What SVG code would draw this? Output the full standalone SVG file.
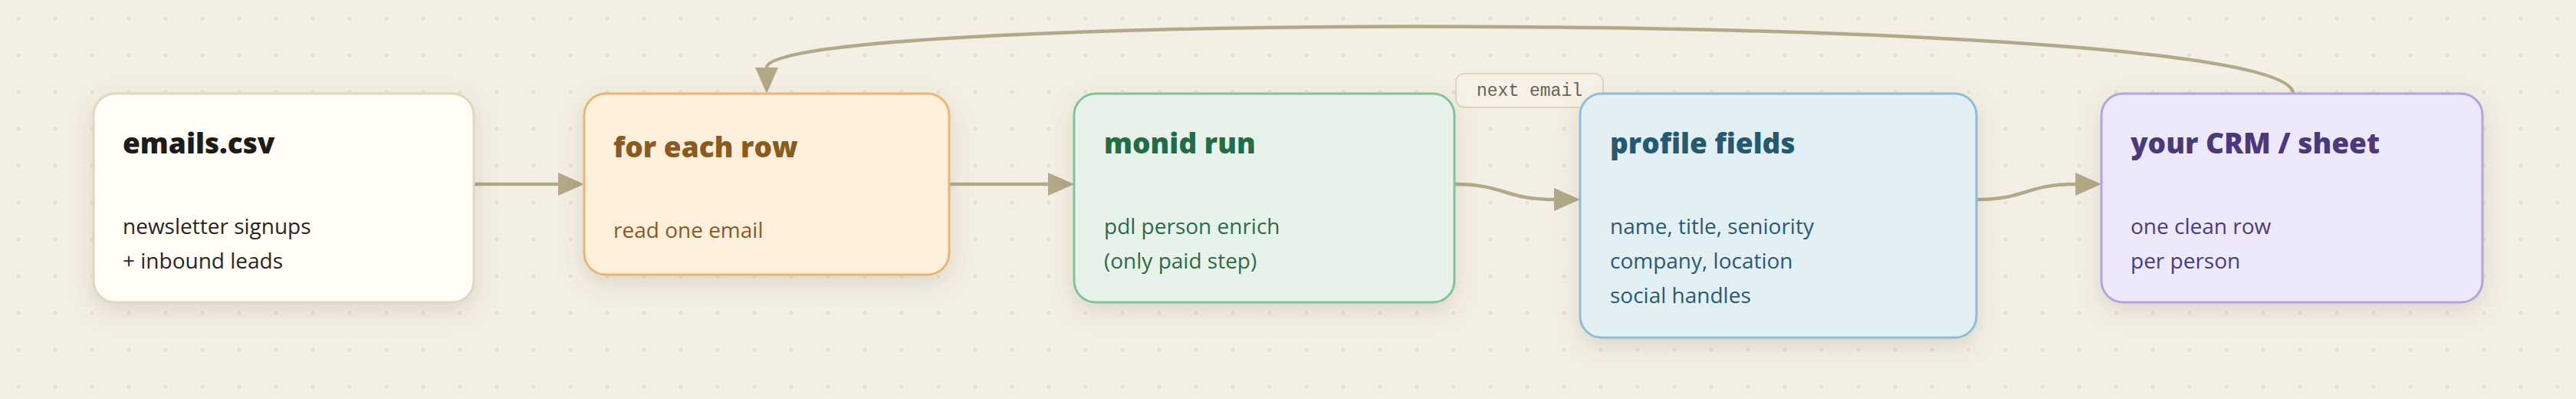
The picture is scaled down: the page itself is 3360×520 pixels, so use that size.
<svg xmlns="http://www.w3.org/2000/svg" width="3360" height="520" viewBox="0 0 3360 520">
  <defs>
    <pattern id="dots" x="0" y="0" width="48" height="48" patternUnits="userSpaceOnUse">
      <circle cx="24" cy="24" r="2" fill="#e3dccb"/>
    </pattern>
    <filter id="shadow" x="-10%" y="-20%" width="120%" height="150%">
      <feDropShadow dx="0" dy="10" stdDeviation="14" flood-color="#6b5a3a" flood-opacity="0.16"/>
    </filter>
    <marker id="arrow" markerWidth="34" markerHeight="30" refX="0" refY="15" orient="auto" markerUnits="userSpaceOnUse">
      <path d="M0,0 L34,15 L0,30 z" fill="#b3a887"/>
    </marker>
    <style>
      .edge { fill: none; stroke: #b3a887; stroke-width: 4.5; }
      .box { stroke-width: 3; filter: url(#shadow); }
      .title { font-family: "Open Sans", "Noto Sans", "Liberation Sans", sans-serif; font-weight: 800; font-size: 37px; }
      .body { font-family: "Open Sans", "Noto Sans", "Liberation Sans", sans-serif; font-weight: 400; font-size: 28px; }
      .lbl { font-family: "Liberation Mono", "DejaVu Sans Mono", monospace; font-size: 23px; fill: #6b6255; }
    </style>
  </defs>

  <rect x="0" y="0" width="3360" height="520" fill="#f3efe4"/>
  <rect x="0" y="0" width="3360" height="520" fill="url(#dots)"/>

  <g id="connectors">
    <line class="edge" x1="618" y1="240" x2="728" y2="240" marker-end="url(#arrow)"/>
    <line class="edge" x1="1238" y1="240" x2="1367" y2="240" marker-end="url(#arrow)"/>
    <path class="edge" d="M1897,240 C1962,240 1962,260 2027,260" marker-end="url(#arrow)"/>
    <path class="edge" d="M2578,260 C2643,260 2643,240 2707,240" marker-end="url(#arrow)"/>
    <path class="edge" d="M2991,122 C2991,12 1000,12 1000,88" marker-end="url(#arrow)"/>
    <g id="label-next-email">
      <rect x="1899" y="96" width="192" height="44" rx="11" fill="#f6f2e8" stroke="#e0d6bf" stroke-width="2"/>
      <text class="lbl" x="1995" y="125" text-anchor="middle">next email</text>
    </g>
  </g>

  <g id="node-emails">
    <rect class="box" x="122" y="122" width="496" height="272" rx="28" fill="#fffdf6" stroke="#e1d6be"/>
    <text class="title" x="160" y="200" fill="#1f1b16">emails.csv</text>
    <text class="body" x="160" y="305" fill="#2a2520">newsletter signups</text>
    <text class="body" x="160" y="350" fill="#2a2520">+ inbound leads</text>
  </g>

  <g id="node-foreach">
    <rect class="box" x="762" y="122" width="476" height="236" rx="28" fill="#fcefdc" stroke="#e8b676"/>
    <text class="title" x="800" y="205" fill="#8b5a1f">for each row</text>
    <text class="body" x="800" y="310" fill="#8b5a1f">read one email</text>
  </g>

  <g id="node-monid">
    <rect class="box" x="1401" y="122" width="496" height="272" rx="28" fill="#e7f3ea" stroke="#80c49b"/>
    <text class="title" x="1440" y="200" fill="#256b45">monid run</text>
    <text class="body" x="1440" y="305" fill="#2d6b48">pdl person enrich</text>
    <text class="body" x="1440" y="350" fill="#2d6b48">(only paid step)</text>
  </g>

  <g id="node-profile">
    <rect class="box" x="2061" y="122" width="517" height="318" rx="28" fill="#e2eff5" stroke="#8ebdd8"/>
    <text class="title" x="2100" y="200" fill="#235a72">profile fields</text>
    <text class="body" x="2100" y="305" fill="#2c5a70">name, title, seniority</text>
    <text class="body" x="2100" y="350" fill="#2c5a70">company, location</text>
    <text class="body" x="2100" y="395" fill="#2c5a70">social handles</text>
  </g>

  <g id="node-crm">
    <rect class="box" x="2741" y="122" width="497" height="272" rx="28" fill="#ede8fa" stroke="#b3a3e0"/>
    <text class="title" x="2779" y="200" fill="#4a3a7c">your CRM / sheet</text>
    <text class="body" x="2779" y="305" fill="#4a3d78">one clean row</text>
    <text class="body" x="2779" y="350" fill="#4a3d78">per person</text>
  </g>
</svg>
